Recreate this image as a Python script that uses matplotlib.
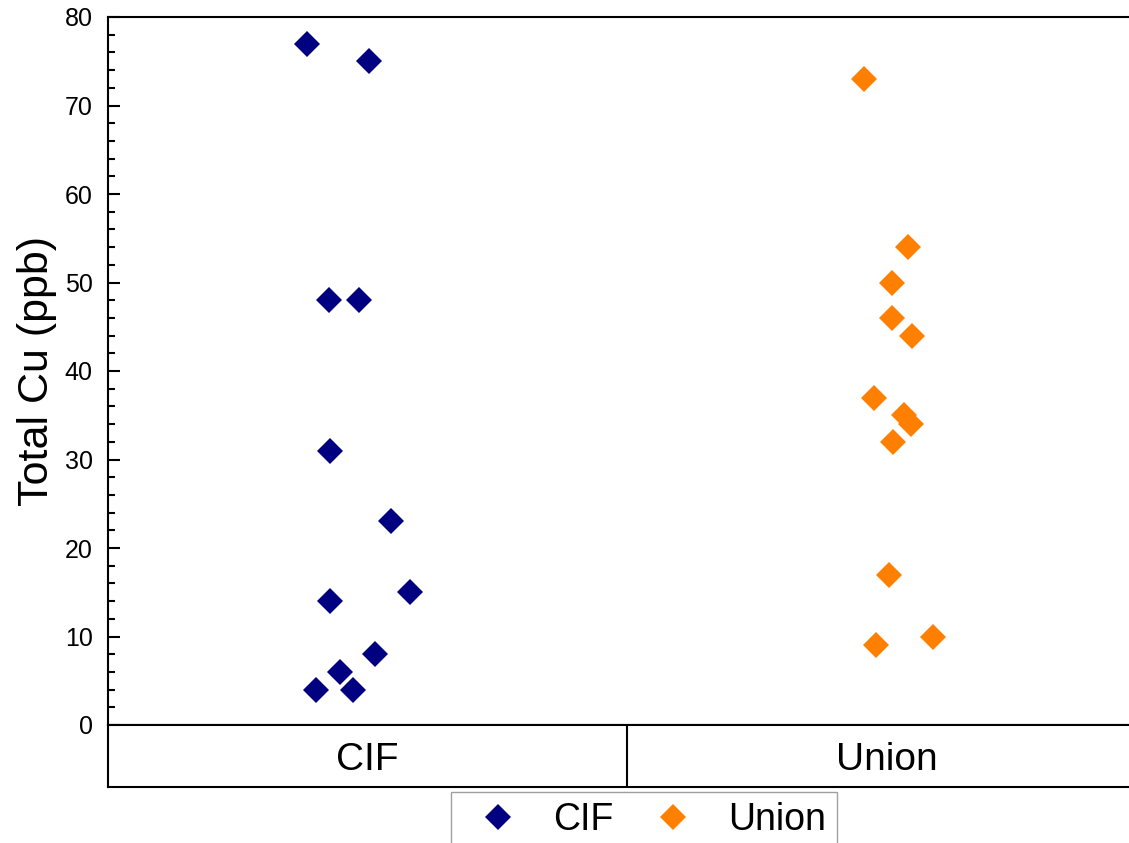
import matplotlib
matplotlib.use("Agg")
import matplotlib.pyplot as plt
from matplotlib.ticker import MultipleLocator
from matplotlib.lines import Line2D

plt.rcParams['font.family'] = ['Liberation Sans', 'DejaVu Sans']

categories = ["CIF", "Union"]
cif_values = [77, 75, 48, 48, 31, 23, 14, 15, 8, 6, 4, 4]
cif_jitter = [-0.117, 0.003, -0.075, -0.016, -0.072, 0.045, -0.072, 0.082, 0.015, -0.053, -0.099, -0.027]
union_values = [73, 54, 50, 46, 44, 37, 35, 34, 32, 17, 9, 10]
union_jitter = [-0.044, 0.042, 0.011, 0.011, 0.050, -0.025, 0.034, 0.047, 0.013, 0.005, -0.020, 0.090]
colors = ["#000080", "#FF8000"]
y_label = "Total Cu (ppb)"

W, H = 1129, 843
fig = plt.figure(figsize=(W / 100, H / 100), dpi=100)

left, right = 108, 1146
top, bottom, band_bottom = 17, 725, 787

ax = fig.add_axes([left / W, 1 - bottom / H, (right - left) / W, (bottom - top) / H])
band = fig.add_axes([left / W, 1 - band_bottom / H, (right - left) / W, (band_bottom - bottom) / H])

series = [(cif_values, cif_jitter), (union_values, union_jitter)]
handles = []
for i, (vals, jit) in enumerate(series):
    xs = [i + j for j in jit]
    ax.plot(xs, vals, linestyle='none', marker='D', markersize=13.2,
            markerfacecolor=colors[i], markeredgewidth=0, color=colors[i], clip_on=False)
    handles.append(Line2D([], [], linestyle='none', marker='D', markersize=13.2,
                          markerfacecolor=colors[i], markeredgewidth=0, color=colors[i],
                          label=categories[i]))

ax.set_xlim(-0.5, 1.5)
ax.set_ylim(0, 80)
ax.yaxis.set_major_locator(MultipleLocator(10))
ax.yaxis.set_minor_locator(MultipleLocator(2))
ax.tick_params(axis='y', which='major', direction='in', length=8.5, width=1.5,
               labelsize=18, pad=11)
ax.tick_params(axis='y', which='minor', direction='in', length=5, width=1.5)
ax.tick_params(axis='x', which='both', bottom=False, labelbottom=False)
for s in ax.spines.values():
    s.set_linewidth(1.5)
ax.set_ylabel(y_label, fontsize=31)
ax.yaxis.set_label_coords(-0.049, 0.5)

band.set_xlim(-0.5, 1.5)
band.set_ylim(0, 1)
band.set_xticks([])
band.set_yticks([])
for s in band.spines.values():
    s.set_linewidth(1.5)
band.axvline(0.5, color='black', linewidth=1.5)
for i, c in enumerate(categories):
    band.text(i, 0.274, c, ha='center', va='baseline', fontsize=28)

leg = fig.legend(handles=handles, loc='upper left',
                 bbox_to_anchor=(451 / W, 1 - 792 / H), ncol=2,
                 fontsize=27, frameon=True, fancybox=False, framealpha=1,
                 edgecolor='#a0a0a0', borderpad=0.28, handlelength=1.94,
                 handletextpad=0.51, columnspacing=0.61, borderaxespad=0)
leg.get_frame().set_linewidth(1.0)

fig.savefig("out.png", dpi=100)
